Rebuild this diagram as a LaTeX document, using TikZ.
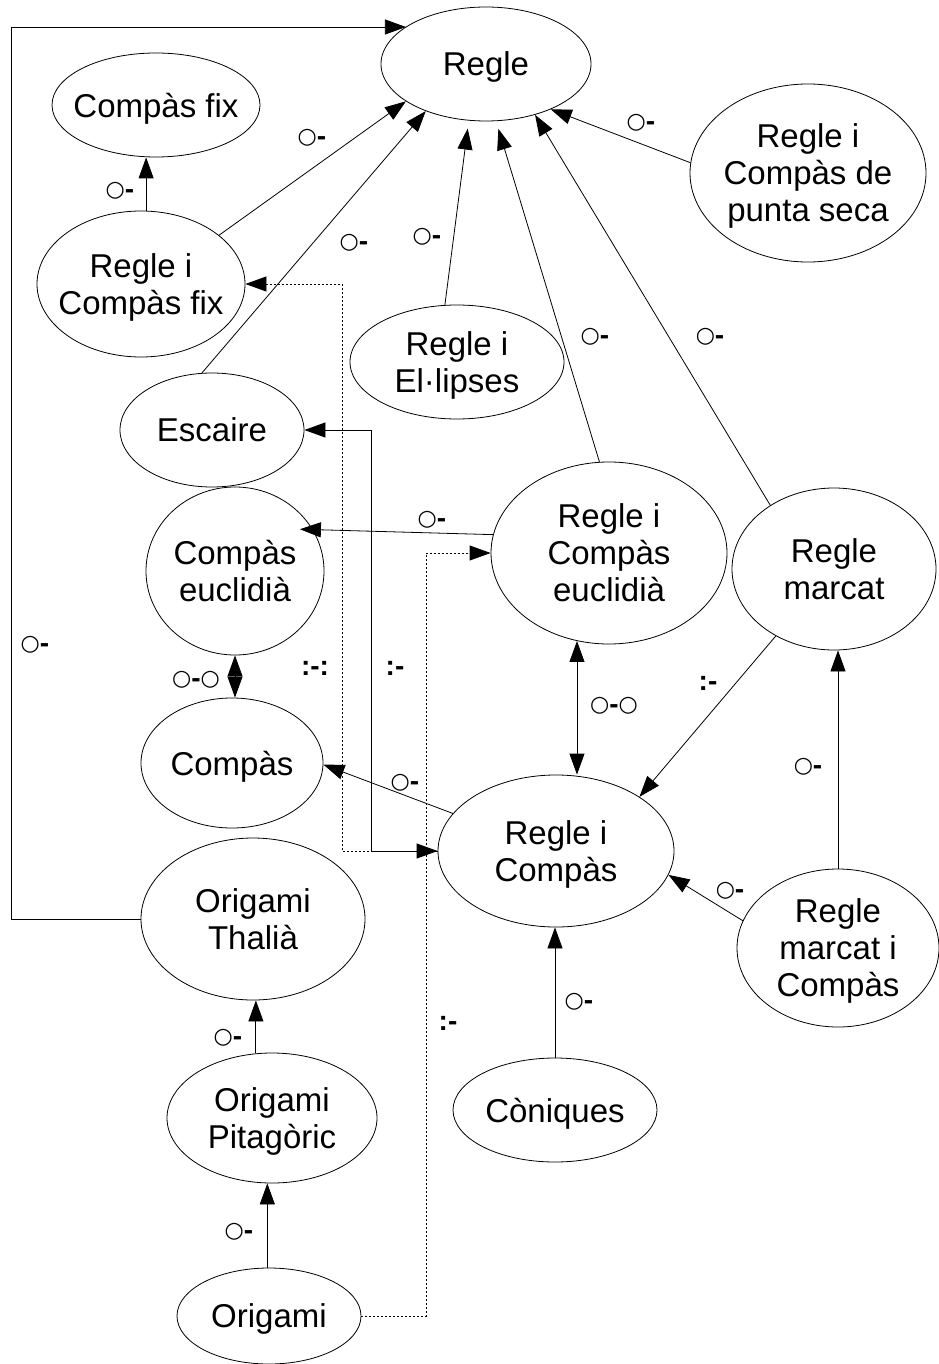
\documentclass[tikz,border=0pt]{standalone}
\usepackage{fontspec}
\setmainfont{Liberation Sans}
\newfontfamily\dejavu{DejaVu Sans}
\usetikzlibrary{shapes.geometric,arrows.meta}
\newcommand{\cir}{{\dejavu\fontsize{22}{22}\selectfont ○}}
\newcommand{\dsh}{\raisebox{-1.5pt}{\textbf{-}}}
\newcommand{\od}{\cir\dsh}
\newcommand{\odo}{\cir\dsh\cir}
\begin{document}
\begin{tikzpicture}[x=1pt,y=-1pt,
  el/.style={draw, ellipse, inner xsep=-16pt, inner ysep=-6pt, text depth=0pt, align=center, font=\fontsize{33}{37}\selectfont, line width=0.8pt},
  arr/.style={-{Triangle[length=21pt,width=15pt]}, line width=0.8pt},
  darr/.style={{Triangle[length=21pt,width=15pt]}-{Triangle[length=21pt,width=15pt]}, line width=0.8pt},
  lab/.style={font=\fontsize{28}{28}\selectfont, inner sep=0pt},
  dots/.style={dash pattern=on 2pt off 2pt}
]
\useasboundingbox (0,0) rectangle (938,1364);
% nodes
\node[el, minimum width=210pt, minimum height=114pt] (regle) at (486,64) {Regle};
\node[el, minimum width=208pt, minimum height=104pt] (cfix) at (156,105) {Compàs fix};
\node[el, minimum width=208pt, minimum height=146pt] (rcfix) at (141,284) {Regle i\\Compàs fix};
\node[el, minimum width=236pt, minimum height=178pt] (rcps) at (808,173) {Regle i\\Compàs de\\punta seca};
\node[el, minimum width=214pt, minimum height=114pt] (rell) at (457,362) {Regle i\\El·lipses};
\node[el, minimum width=184pt, minimum height=114pt] (esc) at (212,430) {Escaire};
\node[el, minimum width=178pt, minimum height=168pt] (ceu) at (235,571) {Compàs\\euclidià};
\node[el, minimum width=182pt, minimum height=130pt] (comp) at (232,763) {Compàs};
\node[el, minimum width=224pt, minimum height=162pt] (othal) at (253,919) {Origami\\Thalià};
\node[el, minimum width=210pt, minimum height=130pt] (opit) at (272,1118) {Origami\\Pitagòric};
\node[el, minimum width=184pt, minimum height=96pt] (ori) at (269,1316) {Origami};
\node[el, minimum width=236pt, minimum height=182pt] (rceu) at (609,553) {Regle i\\Compàs\\euclidià};
\node[el, minimum width=204pt, minimum height=162pt] (rmar) at (834,569) {Regle\\marcat};
\node[el, minimum width=236pt, minimum height=152pt] (rc) at (556,851) {Regle i\\Compàs};
\node[el, minimum width=202pt, minimum height=158pt] (rmc) at (838,948) {Regle\\marcat i\\Compàs};
\node[el, minimum width=204pt, minimum height=104pt] (con) at (555,1110) {Còniques};
% helper coordinates
\coordinate (cTL) at (11,27);
\coordinate (dA) at (342,851);
\coordinate (sB) at (371,851);
\coordinate (dC) at (426,1316);
% connectors
\draw[arr] (rcfix.86) -- (rcfix.86 |- cfix.south);
\draw[arr] (rcfix.32) -- (regle.205);
\draw[arr] (esc.100) -- (regle.218);
\draw[arr, shorten >=8pt] (rell.102) -- (regle.253);
\draw[arr, shorten >=8pt] (rceu.96) -- (regle.280);
\draw[arr] (rmar.135) -- (regle.314);
\draw[arr] (rcps.175) -- (regle.325);
\draw[arr] (othal.west) -| (cTL) -- (cTL -| regle.155);
\draw[darr, dots] (rc.west) -- (dA) |- (rcfix.east);
\draw[arr] (rc.west) -- (sB) |- (esc.east);
\draw[arr, dots] (ori.east) -- (dC) |- (rceu.west);
\draw[arr, shorten >=-13pt] (rceu.171) -- (ceu.28);
\draw[darr] (ceu.south) -- (ceu.south |- comp.north);
\draw[darr] (rceu.250) -- (rceu.250 |- rc.north);
\draw[arr] (rmar.229) -- (rc.33);
\draw[arr] (rc.160) -- (comp.359);
\draw[arr] (rmc.164) -- (rc.348);
\draw[arr] (rmc.north) -- (rmc.north |- rmar.south);
\draw[arr] (con.north) -- (con.north |- rc.south);
\draw[arr] (opit.104) -- (opit.104 |- othal.south);
\draw[arr] (ori.92) -- (ori.92 |- opit.south);
% labels
\node[lab] (l1) at (120,191) {\od};
\node[lab] (l2) at (312,138) {\od};
\node[lab] (l3) at (354,243) {\od};
\node[lab] (l4) at (427,237) {\od};
\node[lab] (l5) at (595,337) {\od};
\node[lab] (l6) at (710,337) {\od};
\node[lab] (l7) at (641,123) {\od};
\node[lab] (l8) at (35,645) {\od};
\node[lab] (l9) at (432,520) {\od};
\node[lab] (l10) at (196,680) {\odo};
\node[lab] (l11) at (315,668) {\textbf{:-:}};
\node[lab] (l12) at (395,668) {\textbf{:-}};
\node[lab] (l13) at (405,783) {\od};
\node[lab] (l14) at (614,706) {\odo};
\node[lab] (l15) at (708,683) {\textbf{:-}};
\node[lab] (l16) at (808,767) {\od};
\node[lab] (l17) at (730,891) {\od};
\node[lab] (l18) at (579,1002) {\od};
\node[lab] (l19) at (228,1038) {\od};
\node[lab] (l20) at (239,1232) {\od};
\node[lab] (l21) at (448,1023) {\textbf{:-}};
\end{tikzpicture}
\end{document}
